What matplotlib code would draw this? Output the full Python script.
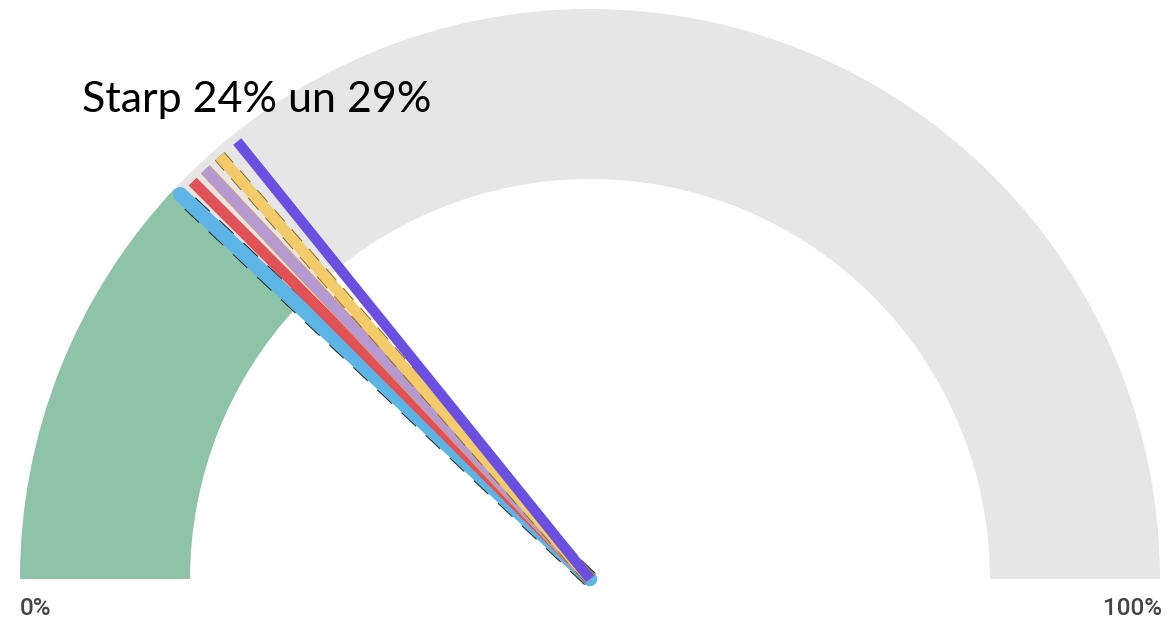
import numpy as np
import matplotlib.pyplot as plt
from matplotlib.patches import Wedge

# gauge data
gauge_value = 24
needle_values = [24, 25, 26, 27.1, 28.4]
needle_colors = ["#5DB5E5", "#E05256", "#B49AD0", "#F3CB6A", "#6B4FE0"]
needle_edges = ["#222222", None, "#F0A050", "#8A6A2A", None]
needle_edge_styles = ["--", None, "-", "--", None]
title_text = "Starp 24% un 29%"
min_label = "0%"
max_label = "100%"

W, H = 1173, 621
cx, cy = 590, H - 579
R_out, R_in = 570, 400

fig = plt.figure(figsize=(W / 100, H / 100), dpi=100)
ax = fig.add_axes([0, 0, 1, 1])
ax.set_xlim(0, W)
ax.set_ylim(0, H)
ax.axis("off")

def pct_to_deg(p):
    return 180 - p * 1.8

# background arc and filled part
ax.add_patch(Wedge((cx, cy), R_out, 0, 180, width=R_out - R_in,
                   facecolor="#E6E6E6", edgecolor="none"))
ax.add_patch(Wedge((cx, cy), R_out, pct_to_deg(gauge_value), 180,
                   width=R_out - R_in, facecolor="#8DC3A7", edgecolor="none"))

# needles
needle_len = 562
widths = [10.5, 8, 8, 8, 7.5]
for v, c, ec, es, lw in zip(needle_values, needle_colors, needle_edges,
                            needle_edge_styles, widths):
    a = np.radians(pct_to_deg(v))
    xs = [cx, cx + needle_len * np.cos(a)]
    ys = [cy, cy + needle_len * np.sin(a)]
    cap = "round" if v == needle_values[0] else "butt"
    if ec is not None:
        if es == "--":
            ax.plot(xs, ys, color=ec, lw=lw + 1.4, dashes=(1.2, 0.8),
                    dash_capstyle="butt")
        else:
            ax.plot(xs, ys, color=ec, lw=lw + 1.0, solid_capstyle=cap)
    ax.plot(xs, ys, color=c, lw=lw, solid_capstyle=cap)

ax.text(82, H - 112, title_text, fontsize=31, family="Lato",
        color="black", ha="left", va="baseline")
ax.text(20, H - 615, min_label, fontsize=17.5, family="Roboto",
        color="#444444", ha="left", va="baseline", weight="medium")
ax.text(1162, H - 615, max_label, fontsize=17.5, family="Roboto",
        color="#444444", ha="right", va="baseline", weight="medium")

fig.savefig("out.png", dpi=100)
